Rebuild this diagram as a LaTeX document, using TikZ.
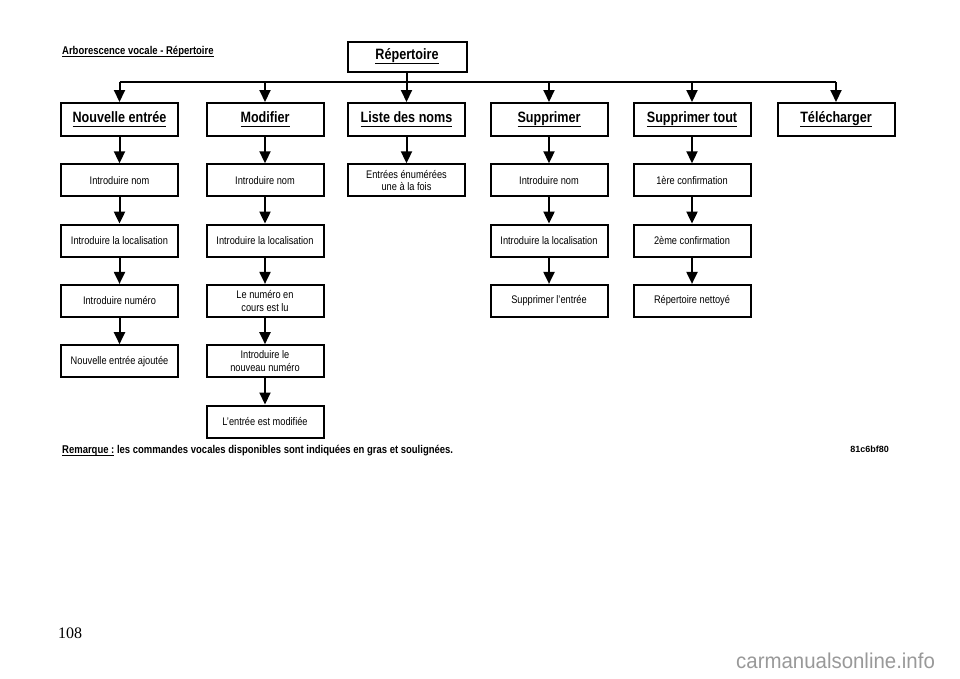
\documentclass[tikz,border=0pt]{standalone}
\usepackage{fontspec}
\usepackage{tikz}
\usetikzlibrary{positioning,arrows.meta,calc}
\setmainfont{Liberation Sans}[FakeStretch=0.84]
\newfontfamily\pagefont{Liberation Serif}
\newfontfamily\plainsans{Liberation Sans}
\newfontfamily\wmfont{Liberation Sans}[FakeStretch=0.95]
\newcommand{\ulcmd}[1]{\leavevmode\setbox0\hbox{#1}\rlap{\vrule height -0.2em depth 0.29em width \wd0}\box0\relax}
\definecolor{wmgray}{gray}{0.6}

\begin{document}
\begin{tikzpicture}[x=1pt,y=-1pt,node distance=26.3pt,
  cmd/.style={draw,line width=2pt,minimum width=117pt,minimum height=33pt,inner sep=0pt,
    font=\fontsize{15}{17}\selectfont\bfseries},
  stepbox/.style={draw,line width=2pt,minimum width=117pt,minimum height=32pt,inner sep=0pt,
    align=center,font=\fontsize{11}{12.5}\selectfont},
  arr/.style={line width=2pt,-{Triangle[length=12pt,width=11pt]}}]
  \def\bus{82} % y of the branch line
  \def\lvl{119.5} % y of the command boxes
  \useasboundingbox (0,0) rectangle (960,678);
  % title and root
  \node[anchor=base west,inner sep=0pt,font=\fontsize{11.3}{13}\selectfont\bfseries] (title) at (62,54)
    {\ulcmd{Arborescence vocale - Répertoire}};
  \node[cmd,minimum width=119pt,minimum height=30pt] (rep) at (407,56.5) {\ulcmd{Répertoire}};
  % voice commands
  \foreach \n/\x/\lbl in {ne/119.5/Nouvelle entrée, mod/265/Modifier, lst/406.5/Liste des noms,
      sup/549/Supprimer, supt/692/Supprimer tout, tel/836/Télécharger} {
    \node[cmd] (\n) at (\x,\lvl) {\ulcmd{\lbl}};
  }
  \coordinate (bus) at (0,\bus);
  \draw[line width=2pt] (rep.south) -- (rep.south |- bus);
  \draw[line width=2pt] (ne.north |- bus) -- (tel.north |- bus);
  \foreach \n in {ne,mod,lst,sup,supt,tel} {
    \draw[arr] (\n.north |- bus) -- (\n.north);
  }
  % Nouvelle entree
  \node[stepbox,below=of ne] (ne1) {Introduire nom};
  \node[stepbox,below=of ne1] (ne2) {Introduire la localisation};
  \node[stepbox,below=of ne2] (ne3) {Introduire numéro};
  \node[stepbox,below=of ne3] (ne4) {Nouvelle entrée ajoutée};
  % Modifier
  \node[stepbox,below=of mod] (mod1) {Introduire nom};
  \node[stepbox,below=of mod1] (mod2) {Introduire la localisation};
  \node[stepbox,below=of mod2] (mod3) {Le numéro en\\cours est lu};
  \node[stepbox,below=of mod3] (mod4) {Introduire le\\nouveau numéro};
  \node[stepbox,below=of mod4] (mod5) {L'entrée est modifiée};
  % Liste des noms
  \node[stepbox,below=of lst] (lst1) {Entrées énumérées\\une à la fois};
  % Supprimer
  \node[stepbox,below=of sup] (sup1) {Introduire nom};
  \node[stepbox,below=of sup1] (sup2) {Introduire la localisation};
  \node[stepbox,below=of sup2] (sup3) {Supprimer l'entrée};
  % Supprimer tout
  \node[stepbox,below=of supt] (supt1) {1ère confirmation};
  \node[stepbox,below=of supt1] (supt2) {2ème confirmation};
  \node[stepbox,below=of supt2] (supt3) {Répertoire nettoyé};
  \foreach \a/\b in {ne/ne1,ne1/ne2,ne2/ne3,ne3/ne4,
      mod/mod1,mod1/mod2,mod2/mod3,mod3/mod4,mod4/mod5,lst/lst1,
      sup/sup1,sup1/sup2,sup2/sup3,supt/supt1,supt1/supt2,supt2/supt3} {
    \draw[arr] (\a) -- (\b);
  }
  % notes
  \node[anchor=base west,inner sep=0pt,font=\fontsize{11.3}{13}\selectfont\bfseries] (note) at (62,453)
    {\ulcmd{Remarque :} les commandes vocales disponibles sont indiquées en gras et soulignées.};
  \node[anchor=base east,inner sep=0pt,font=\plainsans\fontsize{9}{11}\selectfont\bfseries] (ref) at (889,452) {81c6bf80};
  \node[anchor=base west,inner sep=0pt,font=\pagefont\fontsize{16}{18}\selectfont] (page) at (58,638) {108};
  \node[anchor=base west,inner sep=0pt,text=wmgray,font=\wmfont\fontsize{21.5}{24}\selectfont] (wm) at (736,668)
    {carmanualsonline.info};
\end{tikzpicture}
\end{document}
